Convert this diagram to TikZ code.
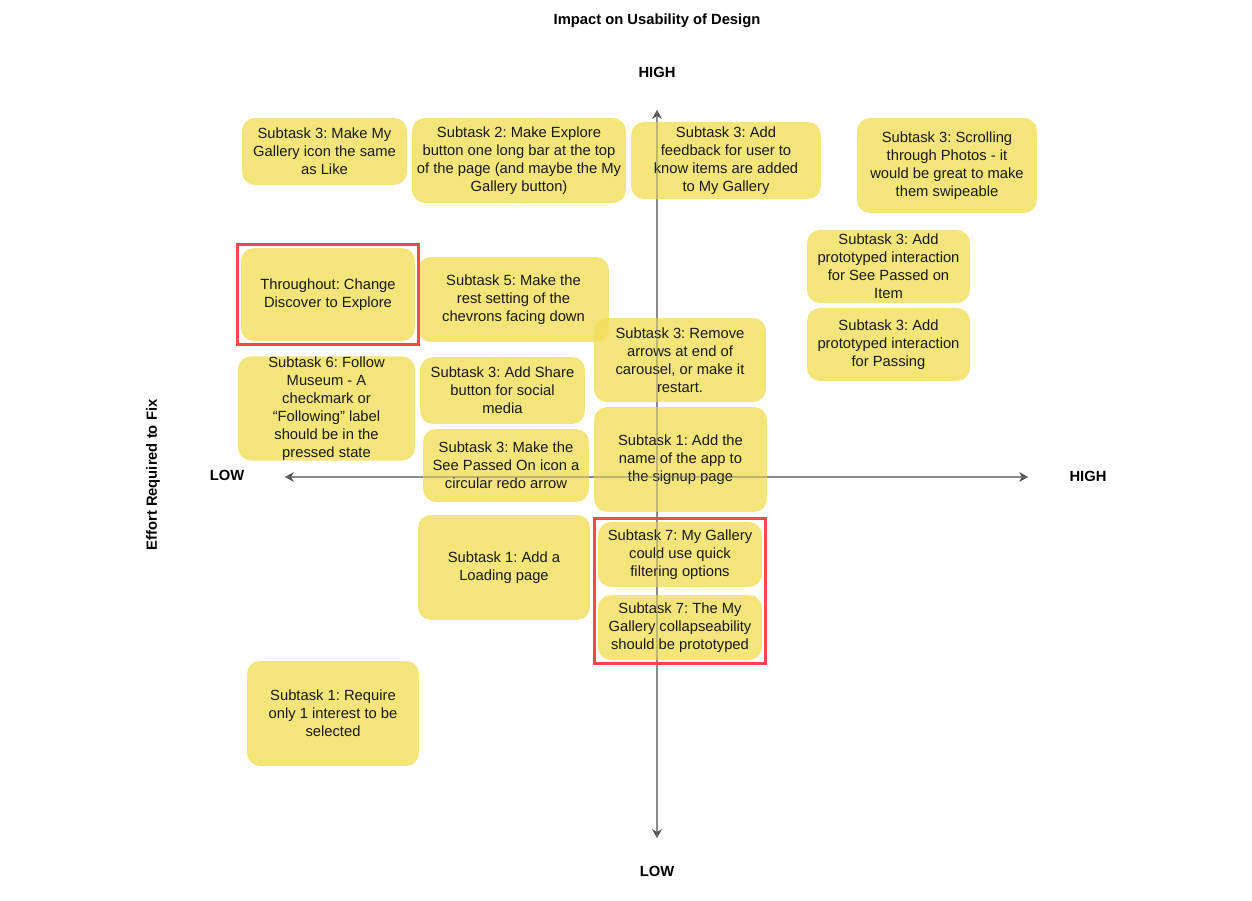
\documentclass[tikz,border=0pt]{standalone}
\usepackage{fontspec}
\setmainfont{Liberation Sans}
\frenchspacing
\usetikzlibrary{arrows.meta,fit}
\definecolor{stickyyellow}{HTML}{F1DE59}
\definecolor{markred}{HTML}{FF4646}
\definecolor{axisgray}{HTML}{8A8A8A}
\tikzset{
  sticky/.style={fill=stickyyellow, fill opacity=0.8, text opacity=1, rounded corners=0.26cm,
    align=center, font=\fontsize{8.4}{10.3}\selectfont, text=black!90, inner sep=0pt},
  axis/.style={draw=axisgray, line width=1.1pt, {Stealth[length=5pt,width=5.5pt,color=black!70]}-{Stealth[length=5pt,width=5.5pt,color=black!70]}},
  axisshine/.style={draw=axisgray, draw opacity=0.35, line width=1.1pt},
  axislabel/.style={font=\bfseries\fontsize{8.4}{10}\selectfont, text=black},
  redbox/.style={draw=markred, line width=1.7pt, inner sep=0pt}
}
\begin{document}
\begin{tikzpicture}[x=0.02cm,y=-0.02cm]
\useasboundingbox (0,0) rectangle (1252,901);
% axes
\coordinate (top) at (657,110);
\coordinate (bot) at (657,838);
\coordinate (left) at (285,477);
\coordinate (right) at (1028,477);
\draw[axis] (bot) -- (top);
\draw[axis] (left) -- (right);
\node[axislabel] (title) at (657,21) {Impact on Usability of Design};
\node[axislabel] (yhigh) at (657,72) {HIGH};
\node[axislabel] (ylow) at (657,871) {LOW};
\node[axislabel] (xlow) at (227,475) {LOW};
\node[axislabel] (xhigh) at (1088,476) {HIGH};
\node[axislabel, rotate=90] (effort) at (153,475) {Effort Required to Fix};
% stickies, top row
\node[sticky, minimum width=3.3cm, minimum height=1.34cm] (likeicon) at (324.5,151.5) {Subtask 3: Make My\\Gallery icon the same\\as Like};
\node[sticky, minimum width=4.28cm, minimum height=1.7cm] (explorebar) at (519,160.5) {Subtask 2: Make Explore\\button one long bar at the top\\of the page (and maybe the My\\Gallery button)};
\node[sticky, minimum width=3.8cm, minimum height=1.54cm] (feedback) at (726,160.5) {Subtask 3: Add\\feedback for user to\\know items are added\\to My Gallery};
\node[sticky, minimum width=3.6cm, minimum height=1.9cm] (swipe) at (947,165.5) {Subtask 3: Scrolling\\through Photos - it\\would be great to make\\them swipeable};
\node[sticky, minimum width=3.26cm, minimum height=1.46cm] (seepassed) at (888.5,266.5) {Subtask 3: Add\\prototyped interaction\\for See Passed on\\Item};
\node[sticky, minimum width=3.26cm, minimum height=1.46cm] (passing) at (888.5,344.5) {Subtask 3: Add\\prototyped interaction\\for Passing};
% middle
\node[sticky, minimum width=3.48cm, minimum height=1.86cm] (discover) at (328,294.5) {Throughout: Change\\Discover to Explore};
\node[sticky, minimum width=3.82cm, minimum height=1.7cm] (chevrons) at (513.5,299.5) {Subtask 5: Make the\\rest setting of the\\chevrons facing down};
\node[sticky, minimum width=3.44cm, minimum height=1.68cm] (carousel) at (680,360) {Subtask 3: Remove\\arrows at end of\\carousel, or make it\\restart.};
\node[sticky, minimum width=3.54cm, minimum height=2.06cm] (follow) at (326.5,408.5) {Subtask 6: Follow\\Museum - A\\checkmark or\\“Following” label\\should be in the\\pressed state};
\node[sticky, minimum width=3.3cm, minimum height=1.34cm] (share) at (502.5,390.5) {Subtask 3: Add Share\\button for social\\media};
\node[sticky, minimum width=3.32cm, minimum height=1.46cm] (redo) at (506,465.5) {Subtask 3: Make the\\See Passed On icon a\\circular redo arrow};
\node[sticky, minimum width=3.46cm, minimum height=2.1cm] (appname) at (680.5,459.5) {Subtask 1: Add the\\name of the app to\\the signup page};
% bottom
\node[sticky, minimum width=3.44cm, minimum height=2.1cm] (loading) at (504,567.5) {Subtask 1: Add a\\Loading page};
\node[sticky, minimum width=3.28cm, minimum height=1.3cm] (filter) at (680,554.5) {Subtask 7: My Gallery\\could use quick\\filtering options};
\node[sticky, minimum width=3.28cm, minimum height=1.3cm] (collapse) at (680,627.5) {Subtask 7: The My\\Gallery collapseability\\should be prototyped};
\node[sticky, minimum width=3.44cm, minimum height=2.1cm] (interest) at (333,713.5) {Subtask 1: Require\\only 1 interest to be\\selected};
% axes seen through the stickies
\draw[axisshine] (bot) -- (top);
\draw[axisshine] (left) -- (right);
% red marks
\node[redbox, fit=(discover), inner xsep=0.06cm, inner ysep=0.06cm] (markone) {};
\node[redbox, fit=(filter) (collapse), inner xsep=0.06cm, inner ysep=0.06cm] (marktwo) {};
\end{tikzpicture}
\end{document}
